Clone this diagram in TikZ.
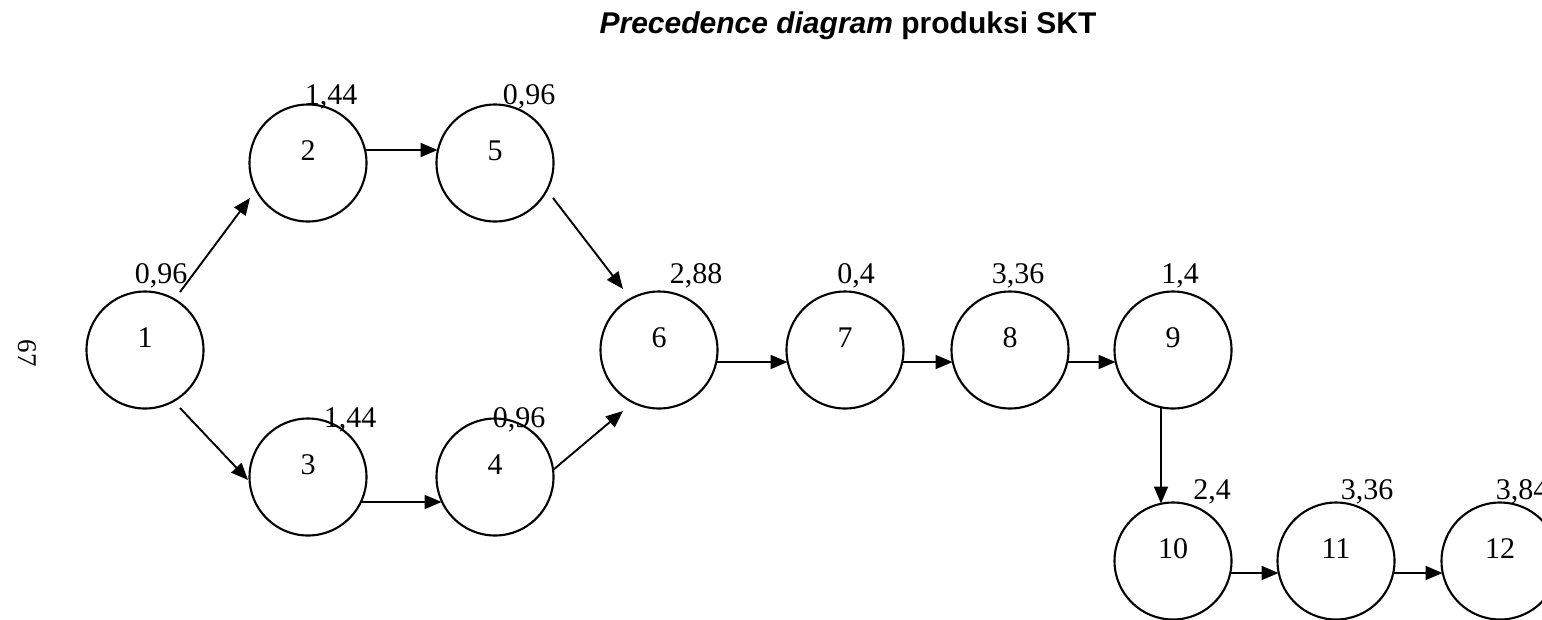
\documentclass[tikz,border=0pt]{standalone}
\usepackage{fontspec}
\setmainfont{Liberation Serif}
\newfontfamily\headfont{Liberation Sans}
\usetikzlibrary{arrows.meta,calc}

\begin{document}
\begin{tikzpicture}[x=1pt,y=-1pt,
  task/.style={circle,draw,line width=2.1pt,minimum size=117pt,inner sep=0pt,
    font=\fontsize{30}{30}\selectfont},
  dur/.style={font=\fontsize{30}{30}\selectfont,inner sep=0pt,anchor=base},
  arr/.style={line width=1.9pt,-{Triangle[length=17pt,width=14pt]}}]

\clip (0,0) rectangle (1542,619);
\fill[white] (0,0) rectangle (1542,619);

% heading
\node[anchor=base,inner sep=0pt,font=\headfont\fontsize{30}{30}\selectfont\bfseries]
  (title) at (848,33) {\itshape Precedence diagram \upshape produksi SKT};

% page number
\node[rotate=-90,inner sep=0pt,font=\fontsize{27}{27}\selectfont] (pg) at (27,353) {67};

% work elements
\newcommand{\tnum}[1]{\smash{\raisebox{3pt}{#1}}}
\node[task] (n1)  at (145,350)  {\tnum{1}};
\node[task] (n2)  at (308,163)  {\tnum{2}};
\node[task] (n5)  at (495,163)  {\tnum{5}};
\node[task] (n3)  at (308,477)  {\tnum{3}};
\node[task] (n4)  at (495,477)  {\tnum{4}};
\node[task] (n6)  at (659,350)  {\tnum{6}};
\node[task] (n7)  at (845,350)  {\tnum{7}};
\node[task] (n8)  at (1010,350) {\tnum{8}};
\node[task] (n9)  at (1173,350) {\tnum{9}};
\node[task] (n10) at (1173,561) {\tnum{10}};
\node[task] (n11) at (1336,561) {\tnum{11}};
\node[task] (n12) at (1500,561) {\tnum{12}};

% element times
\node[dur] (d1)  at (161,283)  {0,96};
\node[dur] (d2)  at (331,104)  {1,44};
\node[dur] (d5)  at (529,104)  {0,96};
\node[dur] (d3)  at (350,427)  {1,44};
\node[dur] (d4)  at (519,427)  {0,96};
\node[dur] (d6)  at (696,283)  {2,88};
\node[dur] (d7)  at (856,283)  {0,4};
\node[dur] (d8)  at (1018,283) {3,36};
\node[dur] (d9)  at (1180,283) {1,4};
\node[dur] (d10) at (1212,499) {2,4};
\node[dur] (d11) at (1367,499) {3,36};
\node[dur] (d12) at (1522,499) {3,84};

% precedence relations
\draw[arr] ($(n1)+(35,-58)$) -- ($(n2)+(-58,35)$);
\draw[arr] ($(n1)+(35,58)$)  -- ($(n3)+(-60,3)$);
\draw[arr] ($(n2)+(57.5,-13)$) -- ($(n5)+(-57.5,-13)$);
\draw[arr] ($(n3)+(53.4,25)$)  -- ($(n4)+(-53.4,25)$);
\draw[arr] ($(n5)+(58,35)$)  -- ($(n6)+(-36,-61)$);
\draw[arr] ($(n4)+(58,-7)$)  -- ($(n6)+(-36,61)$);
\draw[arr] ($(n6)+(57.5,12)$) -- ($(n7)+(-57.5,12)$);
\draw[arr] ($(n7)+(57.5,12)$) -- ($(n8)+(-57.5,12)$);
\draw[arr] ($(n8)+(57.5,12)$) -- ($(n9)+(-57.5,12)$);
\draw[arr] ($(n9)+(-12,57.5)$) -- ($(n10)+(-12,-57.5)$);
\draw[arr] ($(n10)+(57.5,12)$) -- ($(n11)+(-57.5,12)$);
\draw[arr] ($(n11)+(57.5,12)$) -- ($(n12)+(-57.5,12)$);
\end{tikzpicture}
\end{document}
